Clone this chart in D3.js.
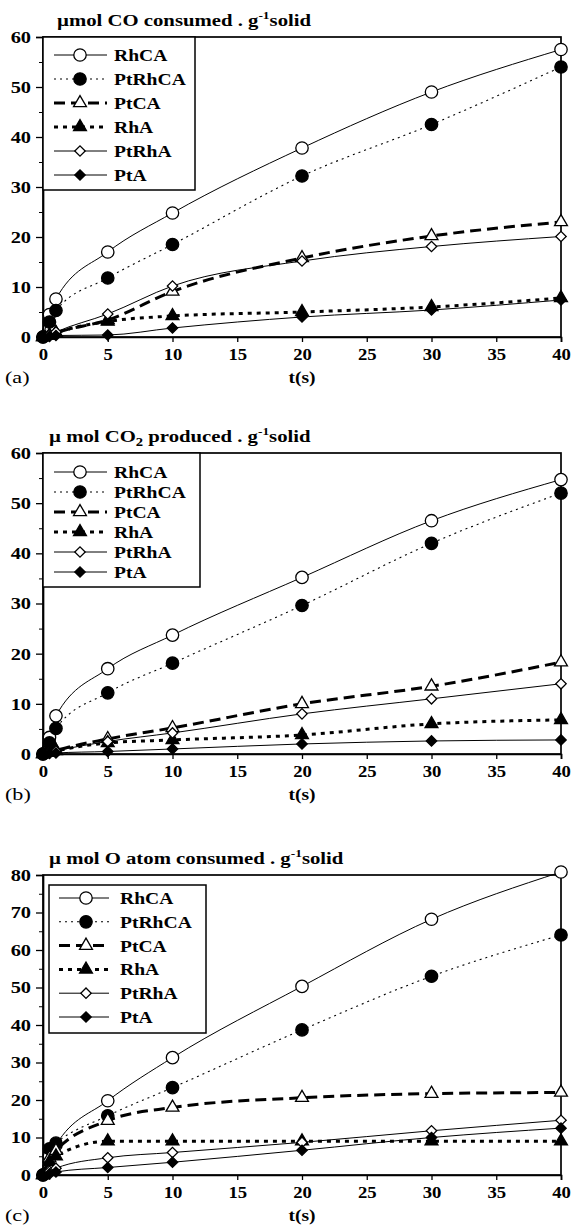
<!DOCTYPE html>
<html><head><meta charset="utf-8">
<script src="https://cdn.jsdelivr.net/npm/d3@7"></script>
<style>
body{margin:0;background:#fff}
svg{display:block}
text{font-family:"Liberation Serif","Times New Roman",serif}
</style>
</head><body>
<svg id="chart" width="572" height="1227"></svg>
<script>
// ---------------- DATA ----------------
const times = [0, 0.5, 1, 5, 10, 20, 30, 40];
const seriesNames = ["RhCA", "PtRhCA", "PtCA", "RhA", "PtRhA", "PtA"];
const xTicks = [0, 5, 10, 15, 20, 25, 30, 35, 40];
const yTicksAB = [0, 10, 20, 30, 40, 50, 60];
const yTicksC = [0, 10, 20, 30, 40, 50, 60, 70, 80];
const panelLetters = ["(a)", "(b)", "(c)"];
const xLabel = "t(s)";

// (a) µmol CO consumed
const coRhCA   = [0, 4.5, 7.6, 17, 24.8, 37.8, 49, 57.5];
const coPtRhCA = [0, 3, 5.3, 11.8, 18.5, 32.2, 42.5, 54];
const coPtCA   = [0, 0.3, 0.8, 3.4, 9.1, 15.8, 20.2, 23];
const coRhA    = [0, 0.3, 0.8, 3.1, 4.2, 5, 6, 7.8];
const coPtRhA  = [0, 0.4, 1, 4.6, 10.2, 15.2, 18.1, 20.1];
const coPtA    = [0, 0.1, 0.3, 0.4, 1.8, 4, 5.4, 7.4];

// (b) µmol CO2 produced
const co2RhCA   = [0, 3.3, 7.6, 17, 23.7, 35.2, 46.5, 54.7];
const co2PtRhCA = [0, 2.2, 5.1, 12.2, 18.1, 29.6, 42, 52];
const co2PtCA   = [0, 0.3, 0.7, 3, 5.2, 10, 13.5, 18.3];
const co2RhA    = [0, 0.3, 0.6, 2.2, 2.8, 3.8, 6, 6.8];
const co2PtRhA  = [0, 0.3, 0.6, 2.5, 4.2, 8, 11, 14];
const co2PtA    = [0, 0.1, 0.2, 0.5, 1, 2, 2.6, 2.8];

// (c) µmol O atom consumed
const oRhCA   = [0, 5, 8, 19.8, 31.3, 50.3, 68.2, 80.8];
const oPtRhCA = [0, 7, 8.5, 15.8, 23.3, 38.7, 53, 64];
const oPtCA   = [0, 4.5, 6.5, 14.5, 18, 20.6, 21.7, 22];
const oRhA    = [0, 3.5, 5, 9, 9, 9, 9, 9];
const oPtRhA  = [0, 1, 1.8, 4.6, 6, 8.7, 11.8, 14.6];
const oPtA    = [0, 0.3, 0.8, 2, 3.4, 6.6, 10, 12.5];

// ---------------- STYLES ----------------
const styles = {
  RhCA:   {dash: null,     width: 1,   sym: "circle",   fill: "#fff"},
  PtRhCA: {dash: "2,4",    width: 1.1, sym: "circle",   fill: "#000"},
  PtCA:   {dash: "11,6",   width: 3,   sym: "triangle", fill: "#fff"},
  RhA:    {dash: "4,5",    width: 3,   sym: "triangle", fill: "#000"},
  PtRhA:  {dash: null,     width: 1,   sym: "diamond",  fill: "#fff"},
  PtA:    {dash: null,     width: 1,   sym: "diamond",  fill: "#000"}
};

const panels = [
  {top: 37, bottom: 337, yMax: 60, yTicks: yTicksAB, titleY: 26, titleX: 57,
   title: [["µmol CO consumed . g", 0], ["-1", 1], ["solid", 0]],
   data: [coRhCA, coPtRhCA, coPtCA, coRhA, coPtRhA, coPtA],
   legend: {x0: 43, x1: 195, y0: 37, y1: 190, row0: 55, dy: 24, lx0: 54, lx1: 107, mx: 80, tx: 114}},
  {top: 453, bottom: 754, yMax: 60, yTicks: yTicksAB, titleY: 442, titleX: 49,
   title: [["µ mol CO", 0], ["2", -1], [" produced . g", 0], ["-1", 1], ["solid", 0]],
   data: [co2RhCA, co2PtRhCA, co2PtCA, co2RhA, co2PtRhA, co2PtA],
   legend: {x0: 43, x1: 200, y0: 453, y1: 587, row0: 472, dy: 20, lx0: 54, lx1: 107, mx: 80, tx: 114}},
  {top: 875, bottom: 1175, yMax: 80, yTicks: yTicksC, titleY: 864, titleX: 49,
   title: [["µ mol O atom consumed .  g", 0], ["-1", 1], ["solid", 0]],
   data: [oRhCA, oPtRhCA, oPtCA, oRhA, oPtRhA, oPtA],
   legend: {x0: 49, x1: 206, y0: 885, y1: 1033, row0: 898, dy: 23.8, lx0: 59, lx1: 109, mx: 86, tx: 120}}
];

// ---------------- DRAW ----------------
const svg = d3.select("#chart");
const x = d3.scaleLinear().domain([0, 40]).range([43, 561]);

function stext(parent, px, py, str, size, kx, weight, anchor) {
  return parent.append("text")
    .attr("transform", `translate(${px},${py}) scale(${kx},1)`)
    .attr("font-size", size).attr("font-weight", weight || "normal")
    .attr("text-anchor", anchor || "start").attr("fill", "#000").text(str);
}

function drawMarker(g, name, cx, cy) {
  const s = styles[name];
  let el;
  if (s.sym === "circle") {
    el = g.append("circle").attr("cx", cx).attr("cy", cy).attr("r", 6.2);
  } else if (s.sym === "triangle") {
    el = g.append("path").attr("d", d3.symbol().type(d3.symbolTriangle).size(72)())
      .attr("transform", `translate(${cx},${cy})`);
  } else {
    el = g.append("path").attr("d", d3.symbol().type(d3.symbolSquare).size(54)())
      .attr("transform", `translate(${cx},${cy}) rotate(45)`);
  }
  el.attr("fill", s.fill).attr("stroke", "#000").attr("stroke-width", 1.3);
}

panels.forEach((p, pi) => {
  const y = d3.scaleLinear().domain([0, p.yMax]).range([p.bottom, p.top]);
  const g = svg.append("g");

  // frame
  g.append("rect").attr("x", x(0)).attr("y", p.top)
    .attr("width", x(40) - x(0)).attr("height", p.bottom - p.top)
    .attr("fill", "none").attr("stroke", "#000").attr("stroke-width", 1.7);

  // y axis major
  const ya = g.append("g").attr("transform", `translate(${x(0)},0)`)
    .call(d3.axisLeft(y).tickValues(p.yTicks).tickSize(7).tickPadding(3).tickFormat(d3.format("d")));
  ya.select(".domain").attr("stroke-width", 1.7);
  ya.selectAll("line").attr("stroke-width", 1.3);
  ya.selectAll("text").attr("font-size", 17).attr("font-weight", "bold")
    .attr("font-family", '"Liberation Serif",serif').attr("fill", "#000")
    .attr("transform", "scale(1.2,1)");
  // y minor
  const minor = p.yTicks.slice(0, -1).map(v => v + 5);
  const ym = g.append("g").attr("transform", `translate(${x(0)},0)`)
    .call(d3.axisLeft(y).tickValues(minor).tickSize(4).tickFormat(""));
  ym.select(".domain").remove();

  // x axis
  const xa = g.append("g").attr("transform", `translate(0,${p.bottom})`)
    .call(d3.axisBottom(x).tickValues(xTicks).tickSize(5).tickPadding(6).tickFormat(d3.format("d")));
  xa.select(".domain").attr("stroke-width", 1.7);
  xa.selectAll("line").attr("stroke-width", 1.3);
  xa.selectAll("text").attr("font-size", 17).attr("font-weight", "bold")
    .attr("font-family", '"Liberation Serif",serif').attr("fill", "#000")
    .attr("transform", "scale(1.1,1)");

  // title
  const t = stext(g, p.titleX, p.titleY, "", 17, 1.22, "bold", "start");
  p.title.forEach(([str, mode], i) => {
    const ts = t.append("tspan").text(str);
    const prev = i > 0 ? p.title[i - 1][1] : 0;
    let dy = 0;
    if (prev === 1) dy += 7;
    if (prev === -1) dy -= 4;
    if (mode === 1) { ts.attr("font-size", 11); dy -= 7; }
    if (mode === -1) { ts.attr("font-size", 12); dy += 4; }
    ts.attr("dy", dy);
  });

  // panel letter and x label
  stext(g, 5, p.bottom + 46, panelLetters[pi], 17, 1.3, "normal", "start");
  stext(g, 302, p.bottom + 46, xLabel, 17, 1.15, "bold", "middle");

  // lines
  const line = d3.line().x((d, i) => x(times[i])).y(d => y(d)).curve(d3.curveMonotoneX);
  seriesNames.forEach((name, si) => {
    const s = styles[name];
    g.append("path").datum(p.data[si]).attr("d", line)
      .attr("fill", "none").attr("stroke", "#000").attr("stroke-width", s.width)
      .attr("stroke-dasharray", s.dash);
  });
  // markers
  seriesNames.forEach((name, si) => {
    p.data[si].forEach((v, i) => drawMarker(g, name, x(times[i]), y(v)));
  });

  // legend
  const L = p.legend;
  g.append("rect").attr("x", L.x0).attr("y", L.y0).attr("width", L.x1 - L.x0).attr("height", L.y1 - L.y0)
    .attr("fill", "#fff").attr("stroke", "#000").attr("stroke-width", 1.5);
  seriesNames.forEach((name, si) => {
    const s = styles[name];
    const ry = L.row0 + si * L.dy;
    g.append("line").attr("x1", L.lx0).attr("x2", L.lx1).attr("y1", ry).attr("y2", ry)
      .attr("stroke", "#000").attr("stroke-width", s.width).attr("stroke-dasharray", s.dash);
    drawMarker(g, name, L.mx, ry);
    stext(g, L.tx, ry + 6, name, 17.5, 1.12, "bold", "start");
  });
});
</script>
</body></html>
